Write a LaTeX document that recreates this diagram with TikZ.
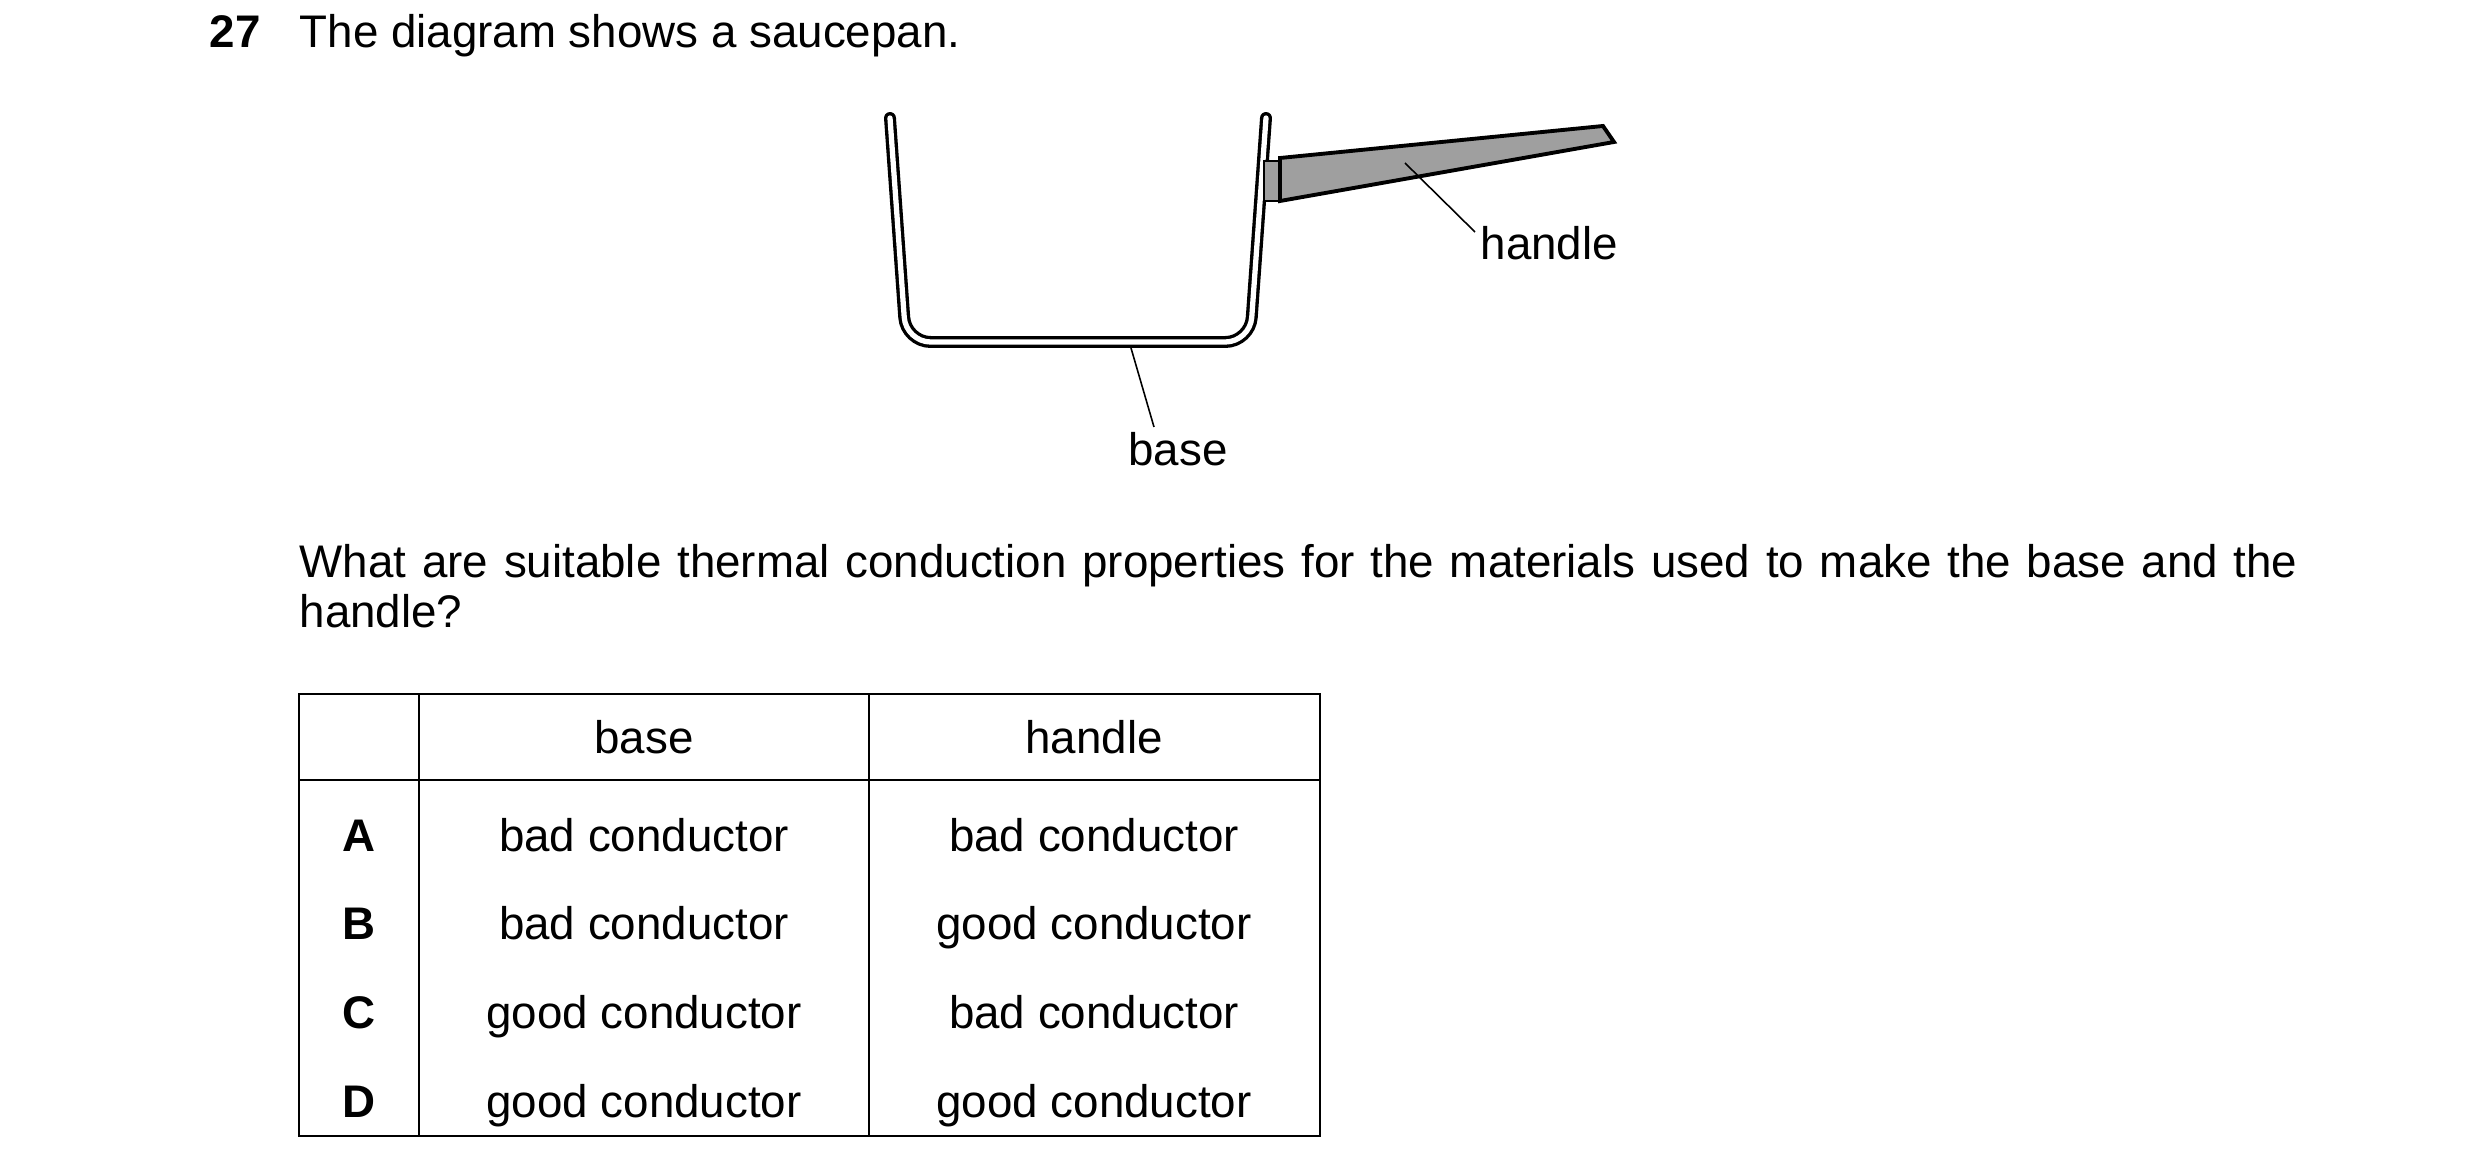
\documentclass[tikz,border=0pt]{standalone}
\usepackage{fontspec}
\setmainfont{Liberation Sans}
\begin{document}
\begin{tikzpicture}[x=0.01cm,y=-0.01cm,
  txt/.style={inner sep=0pt,font=\fontsize{13}{16}\selectfont},
  cell/.style={txt,anchor=base},
  grid/.style={line width=0.6pt},
  leader/.style={line width=0.45pt}]
\useasboundingbox (0,0) rectangle (2480,1164);
% header text
\node[txt,anchor=base west,font=\fontsize{13}{16}\selectfont\bfseries] (num) at (209,48) {27};
\node[txt,anchor=base west] (q1) at (299,48) {The diagram shows a saucepan.};
% saucepan wall
\draw[line width=3.4pt,line cap=round,line join=round,rounded corners=7pt] (890,118)--(906,342)--(1250,342)--(1266,118);
\draw[white,line width=1.5pt,line cap=round,line join=round,rounded corners=7pt] (890,118)--(906,342)--(1250,342)--(1266,118);
% handle
\draw[fill=gray!75,line width=0.5pt] (1264,161) rectangle (1280,201);
\draw[fill=gray!75,line width=1.1pt,line join=miter] (1280,158)--(1603,126)--(1614,142)--(1280,201)--cycle;
\coordinate (hp) at (1405,163);
\coordinate (bp) at (1131,348);
\node[txt,anchor=west] (hl) at (1480,243) {handle};
\node[txt] (bl) at (1178,449) {base};
\draw[leader] (hp)--(1475,232);
\draw[leader] (bp)--(1154,427);
% question
\node[txt,anchor=base west] (q2) at (299,578) {\makebox[1998\dimexpr0.01cm\relax][s]{What are suitable thermal conduction properties for the materials used to make the base and the}};
\node[txt,anchor=base west] (q3) at (299,628) {handle?};
% table
\draw[grid] (299,694) rectangle (1320,1136);
\draw[grid] (299,780)--(1320,780);
\draw[grid] (419,694)--(419,1136);
\draw[grid] (869,694)--(869,1136);
\node[cell] (hb) at (644,754) {base};
\node[cell] (hh) at (1094,754) {handle};
\node[cell,font=\fontsize{13}{16}\selectfont\bfseries] (la) at (359,852) {A};
\node[cell,font=\fontsize{13}{16}\selectfont\bfseries] (lb) at (359,940) {B};
\node[cell,font=\fontsize{13}{16}\selectfont\bfseries] (lc) at (359,1029) {C};
\node[cell,font=\fontsize{13}{16}\selectfont\bfseries] (ld) at (359,1117) {D};
\node[cell] (a1) at (644,852) {bad conductor};
\node[cell] (a2) at (1094,852) {bad conductor};
\node[cell] (b1) at (644,940) {bad conductor};
\node[cell] (b2) at (1094,940) {good conductor};
\node[cell] (c1) at (644,1029) {good conductor};
\node[cell] (c2) at (1094,1029) {bad conductor};
\node[cell] (d1) at (644,1117) {good conductor};
\node[cell] (d2) at (1094,1117) {good conductor};
\end{tikzpicture}
\end{document}
